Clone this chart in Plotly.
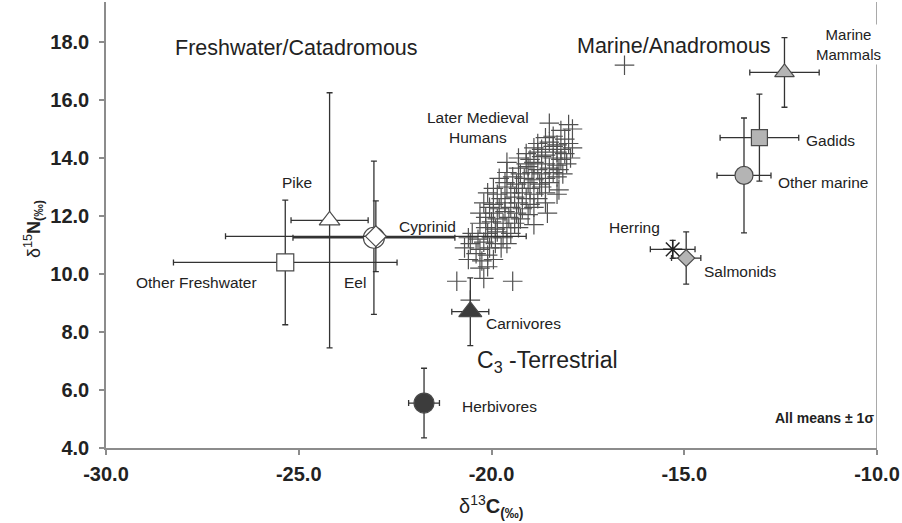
import plotly.graph_objects as go

# ---------------- data ----------------
species = ["Pike", "Other Freshwater", "Eel", "Cyprinid", "Carnivores", "Herbivores",
           "Marine Mammals", "Gadids", "Other marine", "Herring", "Salmonids"]
c13_mean = [-24.2, -25.35, -23.05, -23.0, -20.55, -21.75, -12.4, -13.05, -13.45, -15.3, -14.95]
c13_sd = [1.0, 2.9, 2.1, 3.9, 0.48, 0.4, 0.9, 1.02, 0.7, 0.58, 0.38]
n15_mean = [11.85, 10.4, 11.25, 11.3, 8.7, 5.55, 16.95, 14.7, 13.4, 10.85, 10.55]
n15_sd = [4.4, 2.15, 2.64, 1.22, 1.17, 1.2, 1.2, 1.5, 1.98, 0.31, 0.9]

human_c13 = [
    -18.5, -18.0,
    -18.2, -17.9,
    -18.6, -18.4, -18.1,
    -18.8, -18.5, -18.3, -18.0,
    -18.9, -18.7, -18.4, -18.2, -17.9,
    -19.1, -18.8, -18.6, -18.3, -18.1,
    -19.3, -19.0, -18.7, -18.4, -18.2, -17.95,
    -19.6, -19.1, -18.9, -18.6, -18.3, -18.05,
    -19.3, -19.05, -18.8, -18.5, -18.25,
    -19.6, -19.25, -18.95, -18.7, -18.4, -18.15,
    -19.8, -19.45, -19.15, -18.9, -18.6, -18.3,
    -19.65, -19.35, -19.05, -18.75, -18.5,
    -19.95, -19.6, -19.3, -19.0, -18.7, -18.25,
    -20.1, -19.85, -19.5, -19.2, -18.9, -18.6, -18.3,
    -19.75, -19.4, -19.1, -18.8,
    -20.2, -19.95, -19.65, -19.3, -19.0, -18.6,
    -20.05, -19.8, -19.5, -19.2, -18.9,
    -20.3, -19.95, -19.65, -19.35, -19.05, -18.55,
    -20.15, -19.85, -19.55, -19.25,
    -20.3, -20.0, -19.7, -19.4, -18.9,
    -20.15, -19.9, -19.6, -19.3,
    -20.5, -20.1, -19.85, -19.5,
    -20.6, -20.35, -20.0, -19.7,
    -20.55, -20.2, -19.9, -19.6,
    -20.7, -20.3, -20.05, -19.75,
    -20.4, -20.1,
    -20.6, -20.25, -19.95,
    -20.3, -20.1,
    -20.9, -20.2, -19.45, -20.55,
    -16.55,
]
human_n15 = [
    15.2, 15.15,
    14.95, 15.0,
    14.7, 14.75, 14.65,
    14.5, 14.55, 14.45, 14.5,
    14.35, 14.3, 14.4, 14.3, 14.35,
    14.15, 14.2, 14.1, 14.2, 14.15,
    14.0, 13.95, 14.05, 14.0, 13.95, 14.0,
    13.85, 13.8, 13.85, 13.8, 13.75, 13.8,
    13.65, 13.7, 13.6, 13.65, 13.6,
    13.5, 13.45, 13.5, 13.45, 13.5, 13.45,
    13.3, 13.35, 13.3, 13.25, 13.3, 13.35,
    13.15, 13.1, 13.15, 13.1, 13.15,
    12.95, 13.0, 12.95, 12.95, 13.0, 12.9,
    12.8, 12.75, 12.8, 12.8, 12.75, 12.8, 12.75,
    12.6, 12.65, 12.6, 12.6,
    12.45, 12.4, 12.45, 12.45, 12.4, 12.45,
    12.3, 12.25, 12.3, 12.25, 12.3,
    12.1, 12.1, 12.15, 12.1, 12.05, 12.1,
    11.95, 11.9, 11.95, 11.9,
    11.75, 11.8, 11.75, 11.75, 11.7,
    11.6, 11.55, 11.6, 11.6,
    11.4, 11.4, 11.45, 11.4,
    11.25, 11.2, 11.25, 11.25,
    11.05, 11.1, 11.05, 11.05,
    10.9, 10.85, 10.9, 10.9,
    10.7, 10.65,
    10.5, 10.45, 10.5,
    10.2, 10.25,
    9.75, 9.85, 9.75, 9.1,
    17.2,
]

x_ticks = [-30, -25, -20, -15, -10]
x_ticklabels = ["-30.0", "-25.0", "-20.0", "-15.0", "-10.0"]
y_ticks = [4, 6, 8, 10, 12, 14, 16, 18]
y_ticklabels = ["4.0", "6.0", "8.0", "10.0", "12.0", "14.0", "16.0", "18.0"]

# ---------------- styles ----------------
WHITE, GREY, DARK, EDGE = "#ffffff", "#b4b4b4", "#3c3c3c", "#4a4a4a"
marker_style = {
    "Pike": ("triangle-up", 18, WHITE),
    "Other Freshwater": ("square", 17, WHITE),
    "Eel": ("circle", 21, WHITE),
    "Cyprinid": ("diamond", 16, WHITE),
    "Carnivores": ("triangle-up", 20, DARK),
    "Herbivores": ("circle", 20, DARK),
    "Marine Mammals": ("triangle-up", 17, GREY),
    "Gadids": ("square", 16, GREY),
    "Other marine": ("circle", 18, GREY),
    "Herring": ("asterisk-open", 16, "#222222"),
    "Salmonids": ("diamond", 13, GREY),
}

FONT = "Liberation Sans, Arial, sans-serif"
TXT = "#222222"

fig = go.Figure()

fig.add_trace(go.Scatter(
    x=human_c13, y=human_n15, mode="markers", showlegend=False, hoverinfo="skip",
    marker=dict(symbol="cross-thin-open", size=14, color="#505050",
                line=dict(color="#505050", width=1.2)),
))

for i, name in enumerate(species):
    sym, size, fill = marker_style[name]
    if sym == "asterisk-open":
        mk = dict(symbol=sym, size=size, color="#222222", line=dict(color="#222222", width=1.5))
    else:
        mk = dict(symbol=sym, size=size, color=fill, line=dict(color=EDGE, width=1.2))
    fig.add_trace(go.Scatter(
        x=[c13_mean[i]], y=[n15_mean[i]], mode="markers", name=name, showlegend=False,
        marker=mk,
        error_x=dict(type="data", array=[c13_sd[i]], color="#333333", thickness=1.3, width=3),
        error_y=dict(type="data", array=[n15_sd[i]], color="#333333", thickness=1.3, width=3),
    ))

# right frame line
fig.add_shape(type="line", xref="x", yref="paper", x0=-10, x1=-10, y0=0, y1=1,
              line=dict(color="#8c8c8c", width=1.5), layer="below")

# labels: (text, x, y, size, anchor)
labels = [
    ("Freshwater/Catadromous", -28.27, 17.8, 21.5, "left"),
    ("Marine/Anadromous", -17.83, 17.85, 21.5, "left"),
    ("Later Medieval<br>Humans", -20.35, 15.05, 15.5, "center"),
    ("Pike", -25.05, 13.15, 15.5, "center"),
    ("Cyprinid", -22.45, 11.65, 15.5, "left"),
    ("Other Freshwater", -27.65, 9.72, 15.5, "center"),
    ("Eel", -23.55, 9.72, 15.5, "center"),
    ("Carnivores", -20.2, 8.3, 15.5, "left"),
    ("C<sub>3</sub> -Terrestrial", -20.44, 7.0, 23, "left"),
    ("Herbivores", -19.8, 5.42, 15.5, "center"),
    ("Herring", -16.3, 11.6, 15.5, "center"),
    ("Salmonids", -13.55, 10.07, 15.5, "center"),
    ("Gadids", -11.2, 14.62, 15.5, "center"),
    ("Other marine", -11.4, 13.17, 15.5, "center"),
]
for text, x, y, size, anchor in labels:
    fig.add_annotation(x=x, y=y, text=text, showarrow=False, xanchor=anchor, yanchor="middle",
                       font=dict(family=FONT, size=size, color=TXT))

fig.add_annotation(x=-10.75, y=17.93, text="Marine<br>Mammals", showarrow=False,
                   xanchor="center", yanchor="middle", bgcolor="#ffffff",
                   font=dict(family=FONT, size=15, color=TXT))
fig.add_annotation(x=-11.35, y=5.03, text="<b>All means ± 1σ</b>", showarrow=False,
                   xanchor="center", yanchor="middle",
                   font=dict(family=FONT, size=14, color=TXT))

# axis titles
fig.add_annotation(xref="paper", yref="paper", x=0.5, y=-0.132,
                   text="δ<sup>13</sup><b>C</b><sub><b>(‰)</b></sub>", showarrow=False,
                   xanchor="center", yanchor="middle",
                   font=dict(family=FONT, size=20, color=TXT))
fig.add_annotation(xref="paper", yref="paper", x=-0.094, y=0.49, textangle=-90,
                   text="δ<sup>15</sup><b>N</b><sub><b>(‰)</b></sub>", showarrow=False,
                   xanchor="center", yanchor="middle",
                   font=dict(family=FONT, size=18, color=TXT))

axis_common = dict(showline=True, linecolor="#8c8c8c", linewidth=1.5, ticks="outside",
                   ticklen=5, tickcolor="#8c8c8c", tickwidth=1.5, showgrid=False,
                   zeroline=False, ticklabeloverflow="allow",
                   tickfont=dict(family=FONT, size=20, color=TXT, weight="bold"))

fig.update_layout(
    width=902, height=523,
    margin=dict(l=106, r=22, t=2, b=75),
    paper_bgcolor="#ffffff", plot_bgcolor="#ffffff",
    xaxis=dict(range=[-30, -10], tickvals=x_ticks, ticktext=x_ticklabels,
               ticklabelstandoff=2, **axis_common),
    yaxis=dict(range=[4, 19.38], tickvals=y_ticks, ticktext=y_ticklabels,
               ticklabelstandoff=6, **axis_common),
)

fig.write_html("out.html")
